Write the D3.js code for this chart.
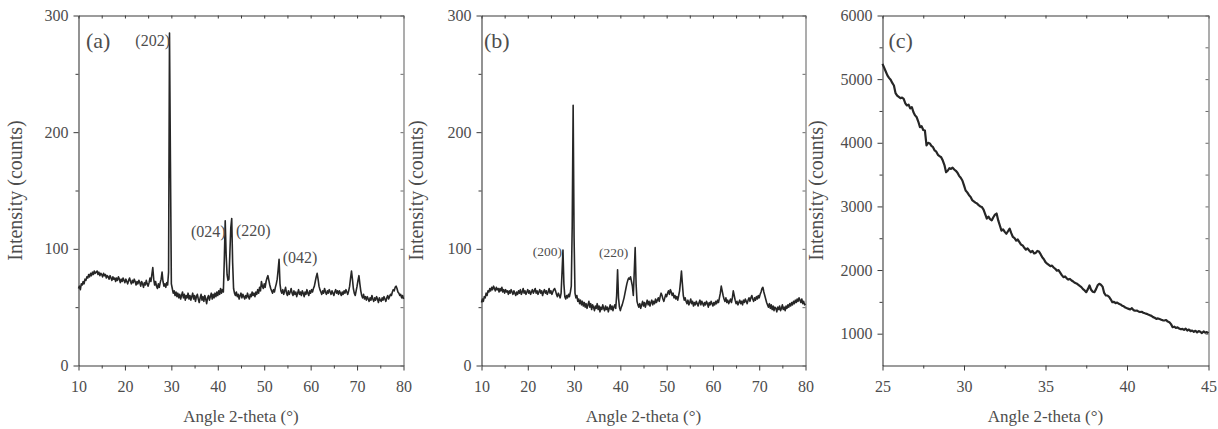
<!DOCTYPE html>
<html><head><meta charset="utf-8">
<script src="https://cdn.jsdelivr.net/npm/d3@7"></script>
<style>
body{margin:0;background:#fff}
svg{display:block}
</style>
</head><body>
<svg id="chart" width="1218" height="429" font-family="Liberation Serif"></svg>
<script>
// ---------- DATA ----------
const angleStartAB = 10, angleStepAB = 0.2;
const countsA = [
66,68,65,70,69,72,70,74,73,76,
75,78,76,79,77,80,78,81,79,80,
81,78,80,77,79,78,76,79,77,78,
75,77,76,74,77,75,73,76,74,75,
72,75,73,76,74,71,74,72,75,73,
71,74,72,70,73,75,72,70,73,71,
74,72,69,72,70,73,71,68,72,70,
67,71,69,73,70,68,71,75,72,78,
84,74,69,72,68,66,70,67,71,74,
80,72,68,70,67,71,69,80,285,175,
70,66,62,64,60,63,59,62,58,61,
57,60,63,58,61,56,60,58,62,57,
60,56,59,62,57,60,55,59,61,57,
54,58,61,56,59,55,60,57,53,58,
60,56,59,62,57,61,58,62,59,63,
60,64,61,66,62,65,63,90,124,95,
78,73,74,96,118,126,88,66,62,60,
63,59,61,57,60,62,58,61,59,57,
60,58,62,59,57,61,59,63,60,62,
59,63,61,65,62,67,64,72,68,66,
70,67,72,75,77,73,69,66,64,62,
65,63,67,70,74,82,91,70,64,62,
65,61,64,67,62,60,64,61,63,66,
62,60,64,61,63,59,62,65,61,63,
60,64,62,59,63,61,65,62,60,64,
62,65,63,66,68,72,76,79,74,68,
65,63,61,64,62,66,63,61,64,62,
65,63,61,64,62,60,63,65,62,64,
61,64,62,60,63,61,64,62,65,63,
61,64,68,75,81,74,66,62,60,64,
68,73,77,70,64,60,58,61,57,59,
56,59,57,55,58,56,60,57,55,58,
56,59,57,54,58,56,55,58,56,59,
57,55,58,60,57,59,61,60,63,65,
64,67,68,66,63,62,60,61,58,60,
57
];
const countsB = [
54,57,55,59,58,62,60,64,63,66,
64,67,65,68,66,64,67,65,66,63,
66,64,67,63,65,62,65,63,64,61,
64,62,65,63,61,64,62,60,63,61,
64,62,65,61,63,66,62,64,61,63,
65,62,64,61,63,65,62,64,66,62,
64,61,63,65,62,64,60,63,65,62,
64,61,63,66,62,64,61,63,65,66,
64,61,59,62,60,58,62,80,99,70,
59,57,60,58,61,59,63,68,120,223,
110,62,58,60,55,57,53,56,52,55,
51,54,50,53,49,52,55,50,53,48,
52,50,47,51,49,53,48,51,46,50,
48,52,49,47,51,48,50,46,49,52,
48,51,47,50,52,49,60,82,58,50,
47,50,52,55,58,62,66,70,73,75,
74,76,72,68,60,80,101,70,55,52,
50,53,49,52,55,51,54,50,53,56,
52,55,51,54,56,52,55,53,57,54,
56,58,55,59,62,60,57,55,58,61,
59,62,64,61,65,63,60,62,58,60,
57,59,56,60,64,72,81,70,60,56,
58,55,53,56,52,54,57,53,55,51,
54,52,55,53,51,54,56,52,55,53,
51,54,52,55,53,50,54,52,55,53,
51,54,52,55,53,56,54,58,62,68,
64,60,57,55,58,54,56,53,55,57,
54,58,64,60,56,53,55,52,54,56,
53,55,52,56,54,57,55,53,56,58,
55,58,60,57,55,58,56,59,57,60,
58,61,63,66,67,63,60,57,54,52,
50,53,49,52,48,51,47,50,49,46,
50,48,51,47,49,52,48,50,47,51,
49,52,50,53,51,54,52,55,53,56,
54,57,55,58,56,54,57,53,55,52,
53
];
const angleStartC = 25, angleStepC = 0.1;
const countsC = [
5240,5180,5120,5060,5020,4990,4940,4900,4780,4740,
4720,4700,4710,4690,4620,4586,4600,4540,4560,4480,
4430,4400,4330,4245,4260,4200,4193,3960,4000,3990,
3950,3931,3880,3860,3810,3790,3773,3720,3650,3538,
3560,3600,3590,3610,3580,3560,3530,3480,3450,3407,
3330,3250,3220,3180,3150,3100,3080,3060,3045,3020,
3000,2990,2950,2880,2810,2840,2800,2780,2830,2870,
2888,2780,2700,2620,2640,2600,2570,2610,2650,2580,
2520,2500,2464,2480,2440,2400,2386,2350,2320,2340,
2307,2280,2300,2260,2270,2300,2290,2250,2200,2170,
2124,2100,2080,2060,2070,2040,2020,1990,2000,1960,
1920,1888,1900,1870,1850,1860,1836,1820,1800,1790,
1770,1750,1731,1700,1680,1652,1700,1757,1690,1660,
1652,1700,1760,1784,1770,1740,1640,1600,1600,1580,
1540,1495,1500,1480,1490,1470,1460,1440,1430,1410,
1400,1390,1380,1400,1370,1360,1364,1350,1340,1345,
1330,1320,1312,1300,1290,1280,1260,1250,1233,1240,
1230,1220,1210,1207,1215,1190,1180,1150,1102,1110,
1090,1100,1080,1070,1076,1060,1080,1050,1065,1040,
1050,1030,1045,1020,1040,1030,1010,1035,1015,1025,
1008
];
const xTicksAB = [10,20,30,40,50,60,70,80];
const xMinorAB = [15,25,35,45,55,65,75];
const yTicksAB = [0,100,200,300];
const yMinorAB = [50,150,250];
const xTicksC = [25,30,35,40,45];
const xMinorC = [27.5,32.5,37.5,42.5];
const yTicksC = [1000,2000,3000,4000,5000,6000];
const yMinorC = [1500,2500,3500,4500,5500];
const panelLabels = ["(a)","(b)","(c)"];
const peakTextA = ["(202)","(024)","(220)","(042)"];
const peakAngleA = [29.7,41.7,43.9,54.0];
const peakCountA = [274,110,111,88];
const peakAnchorA = ["end","end","start","start"];
const peakTextB = ["(200)","(220)"];
const peakAngleB = [27.4,41.7];
const peakCountB = [94,93];
const peakAnchorB = ["end","end"];
const xTitle = "Angle 2-theta (\u00b0)";
const yTitle = "Intensity (counts)";

// ---------- LAYOUT ----------
const FONT = "Liberation Serif";
const svg = d3.select("#chart");
const plotTop = 15.5, plotBottom = 365.5;
const panels = [
  {left:78.5, right:403.5, xDomain:[10,80], yDomain:[0,300], counts:countsA, start:angleStartAB, step:angleStepAB,
   xTicks:xTicksAB, xMinor:xMinorAB, yTicks:yTicksAB, yMinor:yMinorAB, label:panelLabels[0], labelDx:7.5,
   yTitleX:22, lineW:1.6, peaks:{t:peakTextA,a:peakAngleA,c:peakCountA,an:peakAnchorA,fs:16}},
  {left:481.5, right:805.5, xDomain:[10,80], yDomain:[0,300], counts:countsB, start:angleStartAB, step:angleStepAB,
   xTicks:xTicksAB, xMinor:xMinorAB, yTicks:yTicksAB, yMinor:yMinorAB, label:panelLabels[1], labelDx:2.5,
   yTitleX:423, lineW:1.6, peaks:{t:peakTextB,a:peakAngleB,c:peakCountB,an:peakAnchorB,fs:13.5}},
  {left:882.5, right:1208.5, xDomain:[25,45], yDomain:[500,6000], counts:countsC, start:angleStartC, step:angleStepC,
   xTicks:xTicksC, xMinor:xMinorC, yTicks:yTicksC, yMinor:yMinorC, label:panelLabels[2], labelDx:6,
   yTitleX:823, lineW:2.2, peaks:null}
];

const axisColor = "#3a3a3a";
const textColor = "#4d4d4d";

function styleAxis(sel){
  sel.attr("color", axisColor).attr("font-family", FONT).attr("font-size", 16);
  sel.selectAll("text").attr("fill", textColor).attr("font-family", FONT);
  sel.selectAll("path.domain").attr("stroke-width", 1.1);
  sel.selectAll(".tick line").attr("stroke-width", 1);
}
function addText(g){
  return g.append("text").attr("font-family", FONT).attr("fill", textColor);
}

panels.forEach(p => {
  const g = svg.append("g");
  const x = d3.scaleLinear().domain(p.xDomain).range([p.left, p.right]);
  const y = d3.scaleLinear().domain(p.yDomain).range([plotBottom, plotTop]);
  const fmt = d3.format("d");

  // bottom
  g.append("g").attr("transform", `translate(0,${plotBottom})`)
    .call(d3.axisBottom(x).tickValues(p.xMinor).tickSize(3).tickSizeOuter(0).tickFormat(""))
    .call(s => { styleAxis(s); s.select("path.domain").remove(); });
  g.append("g").attr("transform", `translate(0,${plotBottom})`)
    .call(d3.axisBottom(x).tickValues(p.xTicks).tickSize(5).tickPadding(10).tickSizeOuter(0).tickFormat(fmt))
    .call(s => styleAxis(s));
  // top (inward)
  g.append("g").attr("transform", `translate(0,${plotTop})`)
    .call(d3.axisTop(x).tickValues(p.xTicks.concat(p.xMinor)).tickSize(-3).tickSizeOuter(0).tickFormat(""))
    .call(s => styleAxis(s));
  // left
  g.append("g").attr("transform", `translate(${p.left},0)`)
    .call(d3.axisLeft(y).tickValues(p.yMinor).tickSize(3).tickSizeOuter(0).tickFormat(""))
    .call(s => { styleAxis(s); s.select("path.domain").remove(); });
  g.append("g").attr("transform", `translate(${p.left},0)`)
    .call(d3.axisLeft(y).tickValues(p.yTicks).tickSize(5).tickPadding(5).tickSizeOuter(0).tickFormat(fmt))
    .call(s => styleAxis(s));
  // right (inward)
  g.append("g").attr("transform", `translate(${p.right},0)`)
    .call(d3.axisRight(y).tickValues(p.yTicks.concat(p.yMinor)).tickSize(-3).tickSizeOuter(0).tickFormat(""))
    .call(s => { styleAxis(s); s.attr("color", "#6a6a6a"); });

  // data line
  const line = d3.line()
    .x((d, i) => x(p.start + i * p.step))
    .y(d => y(d));
  g.append("path").datum(p.counts)
    .attr("fill", "none").attr("stroke", "#262626")
    .attr("stroke-width", p.lineW).attr("stroke-linejoin", "round")
    .attr("d", line);

  // panel label
  addText(g).attr("x", p.left + p.labelDx).attr("y", 48)
    .attr("font-size", 22).text(p.label);

  // peak labels
  if (p.peaks) {
    p.peaks.t.forEach((t, i) => {
      addText(g).attr("x", x(p.peaks.a[i])).attr("y", y(p.peaks.c[i]))
        .attr("text-anchor", p.peaks.an[i]).attr("font-size", p.peaks.fs).text(t);
    });
  }

  // axis titles
  addText(g).attr("x", (p.left + p.right) / 2).attr("y", 422)
    .attr("text-anchor", "middle").attr("font-size", 17).text(xTitle);
  addText(g)
    .attr("transform", `translate(${p.yTitleX},${(plotTop + plotBottom) / 2}) rotate(-90)`)
    .attr("text-anchor", "middle").attr("font-size", 20).text(yTitle);
});
</script>
</body></html>
